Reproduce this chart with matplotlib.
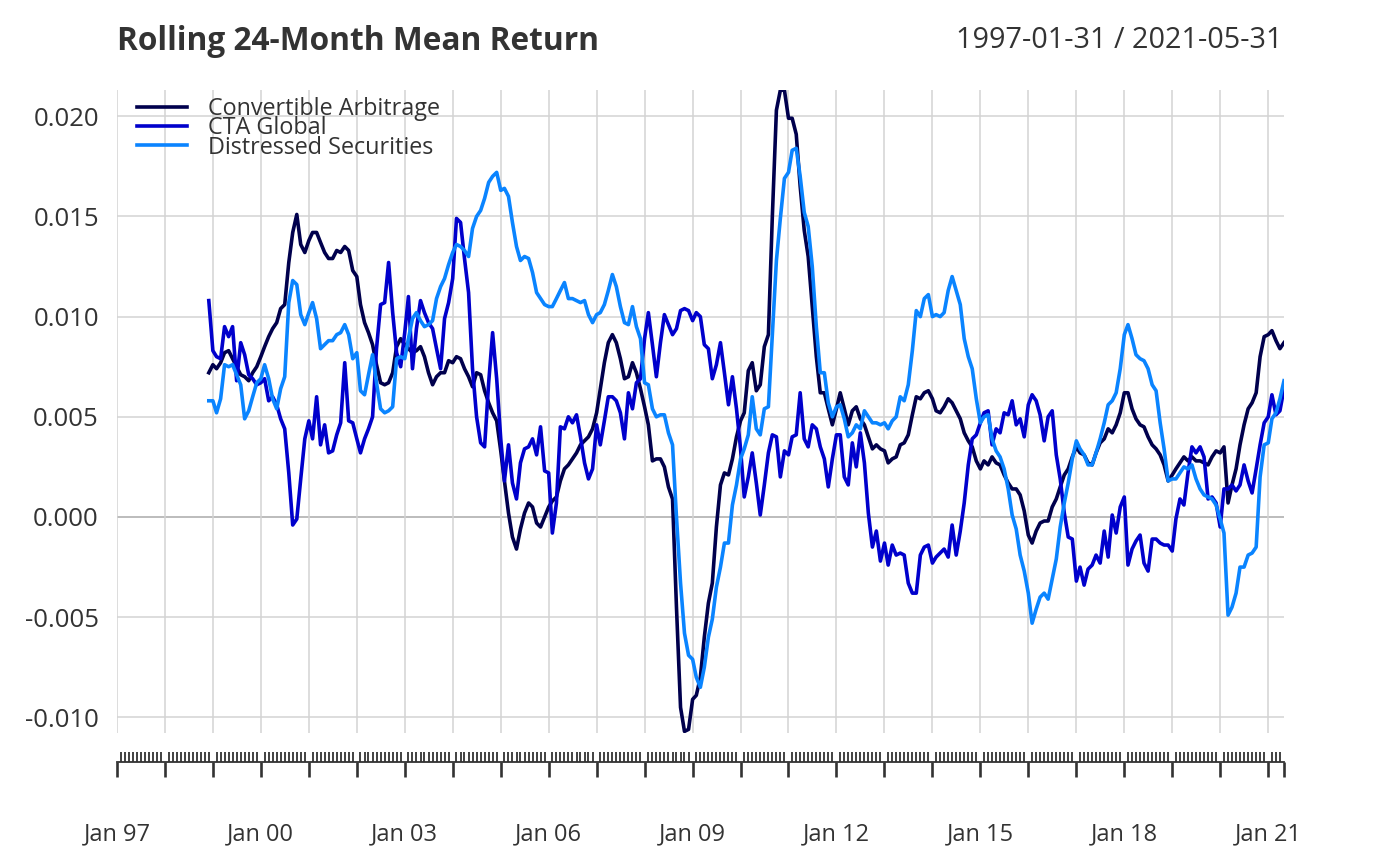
import pandas as pd
import numpy as np
import matplotlib
matplotlib.use("Agg")
import matplotlib.pyplot as plt
import matplotlib.dates as mdates

plt.rcParams['font.family'] = ['Open Sans', 'DejaVu Sans']

# rolling 24-month mean returns, monthly, Dec 1998 .. May 2021
first_date = "1998-12-31"
series_names = ["Convertible Arbitrage", "CTA Global", "Distressed Securities"]

conv_arb = [0.0072,
    0.0076, 0.0074, 0.0077, 0.0082, 0.0083, 0.0079, 0.0075, 0.0071, 0.0070, 0.0068, 0.0072, 0.0075,  # 1999
    0.0080, 0.0085, 0.0090, 0.0094, 0.0097, 0.0104, 0.0106, 0.0127, 0.0142, 0.0151, 0.0136, 0.0132,  # 2000
    0.0138, 0.0142, 0.0142, 0.0137, 0.0132, 0.0129, 0.0129, 0.0133, 0.0132, 0.0135, 0.0133, 0.0123,  # 2001
    0.0120, 0.0106, 0.0097, 0.0092, 0.0086, 0.0076, 0.0067, 0.0066, 0.0067, 0.0072, 0.0085, 0.0089,  # 2002
    0.0086, 0.0084, 0.0082, 0.0083, 0.0085, 0.0080, 0.0072, 0.0066, 0.0070, 0.0072, 0.0072, 0.0078,  # 2003
    0.0077, 0.0080, 0.0079, 0.0074, 0.0070, 0.0065, 0.0072, 0.0071, 0.0063, 0.0057, 0.0052, 0.0048,  # 2004
    0.0033, 0.0018, 0.0002, -0.0010, -0.0016, -0.0006, 0.0002, 0.0007, 0.0005, -0.0003, -0.0005, 0.0000,  # 2005
    0.0005, 0.0008, 0.0010, 0.0018, 0.0024, 0.0026, 0.0029, 0.0032, 0.0036, 0.0038, 0.0040, 0.0044,  # 2006
    0.0052, 0.0064, 0.0077, 0.0087, 0.0091, 0.0087, 0.0079, 0.0069, 0.0070, 0.0077, 0.0072, 0.0064,  # 2007
    0.0055, 0.0046, 0.0028, 0.0029, 0.0029, 0.0025, 0.0015, 0.0009, -0.0045, -0.0095, -0.0107, -0.0106,  # 2008
    -0.0091, -0.0089, -0.0080, -0.0060, -0.0043, -0.0033, -0.0005, 0.0016, 0.0022, 0.0021, 0.0029, 0.0040,  # 2009
    0.0048, 0.0052, 0.0073, 0.0077, 0.0063, 0.0066, 0.0085, 0.0091, 0.0150, 0.0203, 0.0213, 0.0213,  # 2010
    0.0199, 0.0199, 0.0191, 0.0165, 0.0143, 0.0130, 0.0105, 0.0080, 0.0062, 0.0062, 0.0054, 0.0046,  # 2011
    0.0054, 0.0062, 0.0054, 0.0046, 0.0053, 0.0055, 0.0049, 0.0046, 0.0040, 0.0034, 0.0036, 0.0034,  # 2012
    0.0033, 0.0027, 0.0029, 0.0030, 0.0036, 0.0037, 0.0041, 0.0051, 0.0060, 0.0059, 0.0062, 0.0063,  # 2013
    0.0059, 0.0053, 0.0052, 0.0055, 0.0059, 0.0057, 0.0053, 0.0049, 0.0042, 0.0038, 0.0035, 0.0028,  # 2014
    0.0024, 0.0028, 0.0026, 0.0030, 0.0027, 0.0026, 0.0021, 0.0017, 0.0014, 0.0014, 0.0011, 0.0003,  # 2015
    -0.0009, -0.0013, -0.0007, -0.0003, -0.0002, -0.0002, 0.0005, 0.0009, 0.0015, 0.0021, 0.0024, 0.0030,  # 2016
    0.0035, 0.0032, 0.0031, 0.0027, 0.0026, 0.0032, 0.0037, 0.0039, 0.0044, 0.0042, 0.0046, 0.0052,  # 2017
    0.0062, 0.0062, 0.0054, 0.0049, 0.0046, 0.0045, 0.0040, 0.0036, 0.0034, 0.0031, 0.0026, 0.0018,  # 2018
    0.0021, 0.0024, 0.0027, 0.0030, 0.0028, 0.0030, 0.0028, 0.0028, 0.0027, 0.0026, 0.0030, 0.0033,  # 2019
    0.0032, 0.0035, 0.0007, 0.0016, 0.0024, 0.0036, 0.0046, 0.0054, 0.0057, 0.0062, 0.0080, 0.0090,  # 2020
    0.0091, 0.0093, 0.0088, 0.0084, 0.0087]  # 2021

cta_global = [0.0108,
    0.0083, 0.0080, 0.0079, 0.0095, 0.0090, 0.0095, 0.0068, 0.0087, 0.0081, 0.0071, 0.0069, 0.0066,
    0.0067, 0.0069, 0.0058, 0.0060, 0.0056, 0.0049, 0.0044, 0.0022, -0.0004, -0.0001, 0.0019, 0.0039,
    0.0048, 0.0039, 0.0060, 0.0036, 0.0046, 0.0032, 0.0033, 0.0041, 0.0047, 0.0077, 0.0048, 0.0047,
    0.0039, 0.0032, 0.0039, 0.0044, 0.0050, 0.0084, 0.0106, 0.0107, 0.0127, 0.0102, 0.0082, 0.0075,
    0.0092, 0.0110, 0.0074, 0.0094, 0.0108, 0.0102, 0.0097, 0.0094, 0.0084, 0.0074, 0.0099, 0.0107,
    0.0119, 0.0149, 0.0147, 0.0129, 0.0112, 0.0074, 0.0050, 0.0037, 0.0035, 0.0067, 0.0092, 0.0069,
    0.0039, 0.0018, 0.0036, 0.0017, 0.0009, 0.0027, 0.0034, 0.0035, 0.0039, 0.0031, 0.0045, 0.0023,
    0.0022, -0.0008, 0.0007, 0.0045, 0.0044, 0.0050, 0.0047, 0.0051, 0.0040, 0.0027, 0.0019, 0.0024,
    0.0046, 0.0036, 0.0048, 0.0060, 0.0060, 0.0058, 0.0052, 0.0039, 0.0062, 0.0054, 0.0067, 0.0069,
    0.0089, 0.0102, 0.0086, 0.0070, 0.0087, 0.0101, 0.0096, 0.0091, 0.0094, 0.0103, 0.0104, 0.0103,
    0.0098, 0.0102, 0.0100, 0.0086, 0.0084, 0.0069, 0.0076, 0.0087, 0.0072, 0.0056, 0.0070, 0.0054,
    0.0034, 0.0010, 0.0020, 0.0032, 0.0017, 0.0001, 0.0016, 0.0032, 0.0041, 0.0040, 0.0020, 0.0033,
    0.0031, 0.0040, 0.0041, 0.0062, 0.0039, 0.0035, 0.0046, 0.0044, 0.0035, 0.0029, 0.0015, 0.0029,
    0.0041, 0.0041, 0.0020, 0.0016, 0.0037, 0.0025, 0.0042, 0.0027, 0.0002, -0.0015, -0.0007, -0.0022,
    -0.0013, -0.0024, -0.0014, -0.0019, -0.0018, -0.0019, -0.0033, -0.0038, -0.0038, -0.0019, -0.0015, -0.0014,
    -0.0023, -0.0020, -0.0018, -0.0016, -0.0020, -0.0004, -0.0019, -0.0007, 0.0007, 0.0026, 0.0039, 0.0041,
    0.0047, 0.0052, 0.0053, 0.0036, 0.0044, 0.0042, 0.0052, 0.0051, 0.0058, 0.0046, 0.0049, 0.0040,
    0.0056, 0.0061, 0.0058, 0.0051, 0.0038, 0.0050, 0.0053, 0.0031, 0.0019, 0.0002, -0.0010, -0.0011,
    -0.0032, -0.0025, -0.0034, -0.0026, -0.0024, -0.0019, -0.0023, -0.0007, -0.0020, 0.0001, -0.0008, 0.0005,
    0.0010, -0.0024, -0.0016, -0.0012, -0.0009, -0.0023, -0.0027, -0.0011, -0.0011, -0.0013, -0.0014, -0.0014,
    -0.0017, -0.0001, 0.0009, 0.0006, 0.0022, 0.0035, 0.0032, 0.0035, 0.0030, 0.0009, 0.0010, 0.0007,
    -0.0005, 0.0014, 0.0014, 0.0016, 0.0013, 0.0016, 0.0026, 0.0018, 0.0012, 0.0024, 0.0036, 0.0047,
    0.0050, 0.0061, 0.0051, 0.0053, 0.0064]

distressed = [0.0058,
    0.0058, 0.0052, 0.0059, 0.0076, 0.0075, 0.0076, 0.0071, 0.0066, 0.0049, 0.0053, 0.0060, 0.0067,
    0.0069, 0.0076, 0.0069, 0.0059, 0.0054, 0.0064, 0.0070, 0.0107, 0.0118, 0.0116, 0.0101, 0.0096,
    0.0102, 0.0107, 0.0099, 0.0084, 0.0086, 0.0088, 0.0088, 0.0091, 0.0092, 0.0096, 0.0091, 0.0079,
    0.0082, 0.0063, 0.0061, 0.0071, 0.0081, 0.0067, 0.0054, 0.0052, 0.0053, 0.0055, 0.0079, 0.0080,
    0.0079, 0.0089, 0.0099, 0.0102, 0.0098, 0.0095, 0.0096, 0.0098, 0.0109, 0.0115, 0.0119, 0.0126,
    0.0132, 0.0136, 0.0135, 0.0133, 0.0130, 0.0144, 0.0150, 0.0153, 0.0159, 0.0167, 0.0170, 0.0172,
    0.0163, 0.0164, 0.0160, 0.0147, 0.0135, 0.0128, 0.0130, 0.0129, 0.0122, 0.0112, 0.0109, 0.0106,
    0.0105, 0.0105, 0.0109, 0.0113, 0.0117, 0.0109, 0.0109, 0.0108, 0.0107, 0.0108, 0.0101, 0.0097,
    0.0101, 0.0102, 0.0106, 0.0113, 0.0121, 0.0115, 0.0105, 0.0097, 0.0096, 0.0105, 0.0095, 0.0089,
    0.0067, 0.0066, 0.0054, 0.0050, 0.0051, 0.0051, 0.0042, 0.0036, 0.0000, -0.0033, -0.0058, -0.0069,
    -0.0071, -0.0080, -0.0085, -0.0075, -0.0060, -0.0051, -0.0035, -0.0025, -0.0013, -0.0013, 0.0006, 0.0016,
    0.0029, 0.0034, 0.0041, 0.0060, 0.0044, 0.0041, 0.0054, 0.0055, 0.0091, 0.0128, 0.0149, 0.0169,
    0.0172, 0.0183, 0.0184, 0.0170, 0.0152, 0.0145, 0.0125, 0.0095, 0.0072, 0.0072, 0.0057, 0.0050,
    0.0055, 0.0056, 0.0049, 0.0040, 0.0042, 0.0046, 0.0044, 0.0053, 0.0050, 0.0047, 0.0047, 0.0046,
    0.0047, 0.0044, 0.0048, 0.0050, 0.0060, 0.0058, 0.0066, 0.0083, 0.0103, 0.0100, 0.0109, 0.0111,
    0.0100, 0.0101, 0.0100, 0.0102, 0.0113, 0.0120, 0.0113, 0.0106, 0.0089, 0.0080, 0.0074, 0.0059,
    0.0047, 0.0050, 0.0051, 0.0039, 0.0033, 0.0030, 0.0024, 0.0014, 0.0001, -0.0006, -0.0019, -0.0027,
    -0.0038, -0.0053, -0.0046, -0.0040, -0.0038, -0.0041, -0.0031, -0.0021, -0.0005, 0.0007, 0.0017, 0.0029,
    0.0038, 0.0034, 0.0031, 0.0026, 0.0026, 0.0032, 0.0039, 0.0047, 0.0056, 0.0058, 0.0062, 0.0074,
    0.0091, 0.0096, 0.0089, 0.0081, 0.0079, 0.0078, 0.0074, 0.0066, 0.0063, 0.0047, 0.0034, 0.0018,
    0.0019, 0.0019, 0.0022, 0.0025, 0.0024, 0.0026, 0.0019, 0.0014, 0.0011, 0.0010, 0.0009, 0.0006,
    -0.0001, -0.0008, -0.0049, -0.0045, -0.0038, -0.0025, -0.0025, -0.0019, -0.0018, -0.0015, 0.0020, 0.0036,
    0.0037, 0.0049, 0.0052, 0.0059, 0.0068]

y_ticks = [-0.010, -0.005, 0.000, 0.005, 0.010, 0.015, 0.020]
colors = ["#00004D", "#0000CC", "#0A84FF"]

dates = pd.date_range(first_date, periods=len(conv_arb), freq=pd.offsets.MonthEnd())
df = pd.DataFrame({series_names[0]: conv_arb,
                   series_names[1]: cta_global,
                   series_names[2]: distressed}, index=dates)

start = pd.Timestamp("1997-01-31")
end = pd.Timestamp("2021-05-31")
all_months = pd.date_range(start, end, freq=pd.offsets.MonthEnd())
year_starts = [d for d in all_months if d.month == 1]

fig = plt.figure(figsize=(14, 8.66), dpi=100)
ax = fig.add_axes([117/1400, 1 - 733/866, (1284-117)/1400, (733-90)/866])

grid_col = "#D3D3D3"
for y in y_ticks:
    ax.axhline(y, color="#A9A9A9" if y == 0 else grid_col, lw=1.1, zorder=1)
for d in year_starts:
    ax.axvline(d, color=grid_col, lw=1.1, zorder=1)

for name, c in zip(series_names, colors):
    ax.plot(df.index, df[name], color=c, lw=2.6, label=name, zorder=3,
            solid_joinstyle="round")

ax.set_xlim(start, end)
ax.set_ylim(-0.01078, 0.02131)

for s in ["top", "right", "left"]:
    ax.spines[s].set_visible(False)
ax.spines["bottom"].set_position(("outward", 20.7))
ax.spines["bottom"].set_color("#333333")
ax.spines["bottom"].set_linewidth(1.3)

ax.set_yticks(y_ticks)
ax.set_yticklabels(["%.3f" % v for v in y_ticks])
ax.tick_params(axis="y", length=0, pad=13, labelsize=18.5, labelcolor="#333333")

major = year_starts + [end]
ax.set_xticks(major)
ax.set_xticklabels([("Jan %02d" % (d.year % 100)) if (d.month == 1 and (d.year - 1997) % 3 == 0) else ""
                    for d in major])
ax.set_xticks(all_months, minor=True)
ax.tick_params(axis="x", which="major", direction="out", length=11, width=1.9,
               color="#333333", pad=32.5, labelsize=17, labelcolor="#333333")
ax.tick_params(axis="x", which="minor", direction="in", length=7.5, width=1.3, color="#333333")

leg = ax.legend(loc="upper left", bbox_to_anchor=(0.0171, 0.9885), frameon=False,
                fontsize=16.8, handlelength=2.15, handletextpad=0.9, labelspacing=-0.21,
                borderpad=0, borderaxespad=0)
for t in leg.get_texts():
    t.set_color("#333333")
for h in leg.get_lines():
    h.set_linewidth(2.6)

fig.text(117/1400, 1 - 41/866, "Rolling 24-Month Mean Return", fontsize=22.8, fontweight="bold",
         color="#333333", ha="left", va="center")
fig.text(1283/1400, 1 - 41/866, "1997-01-31 / 2021-05-31", fontsize=20.7, color="#333333",
         ha="right", va="center")

fig.savefig("out.png", dpi=100)
